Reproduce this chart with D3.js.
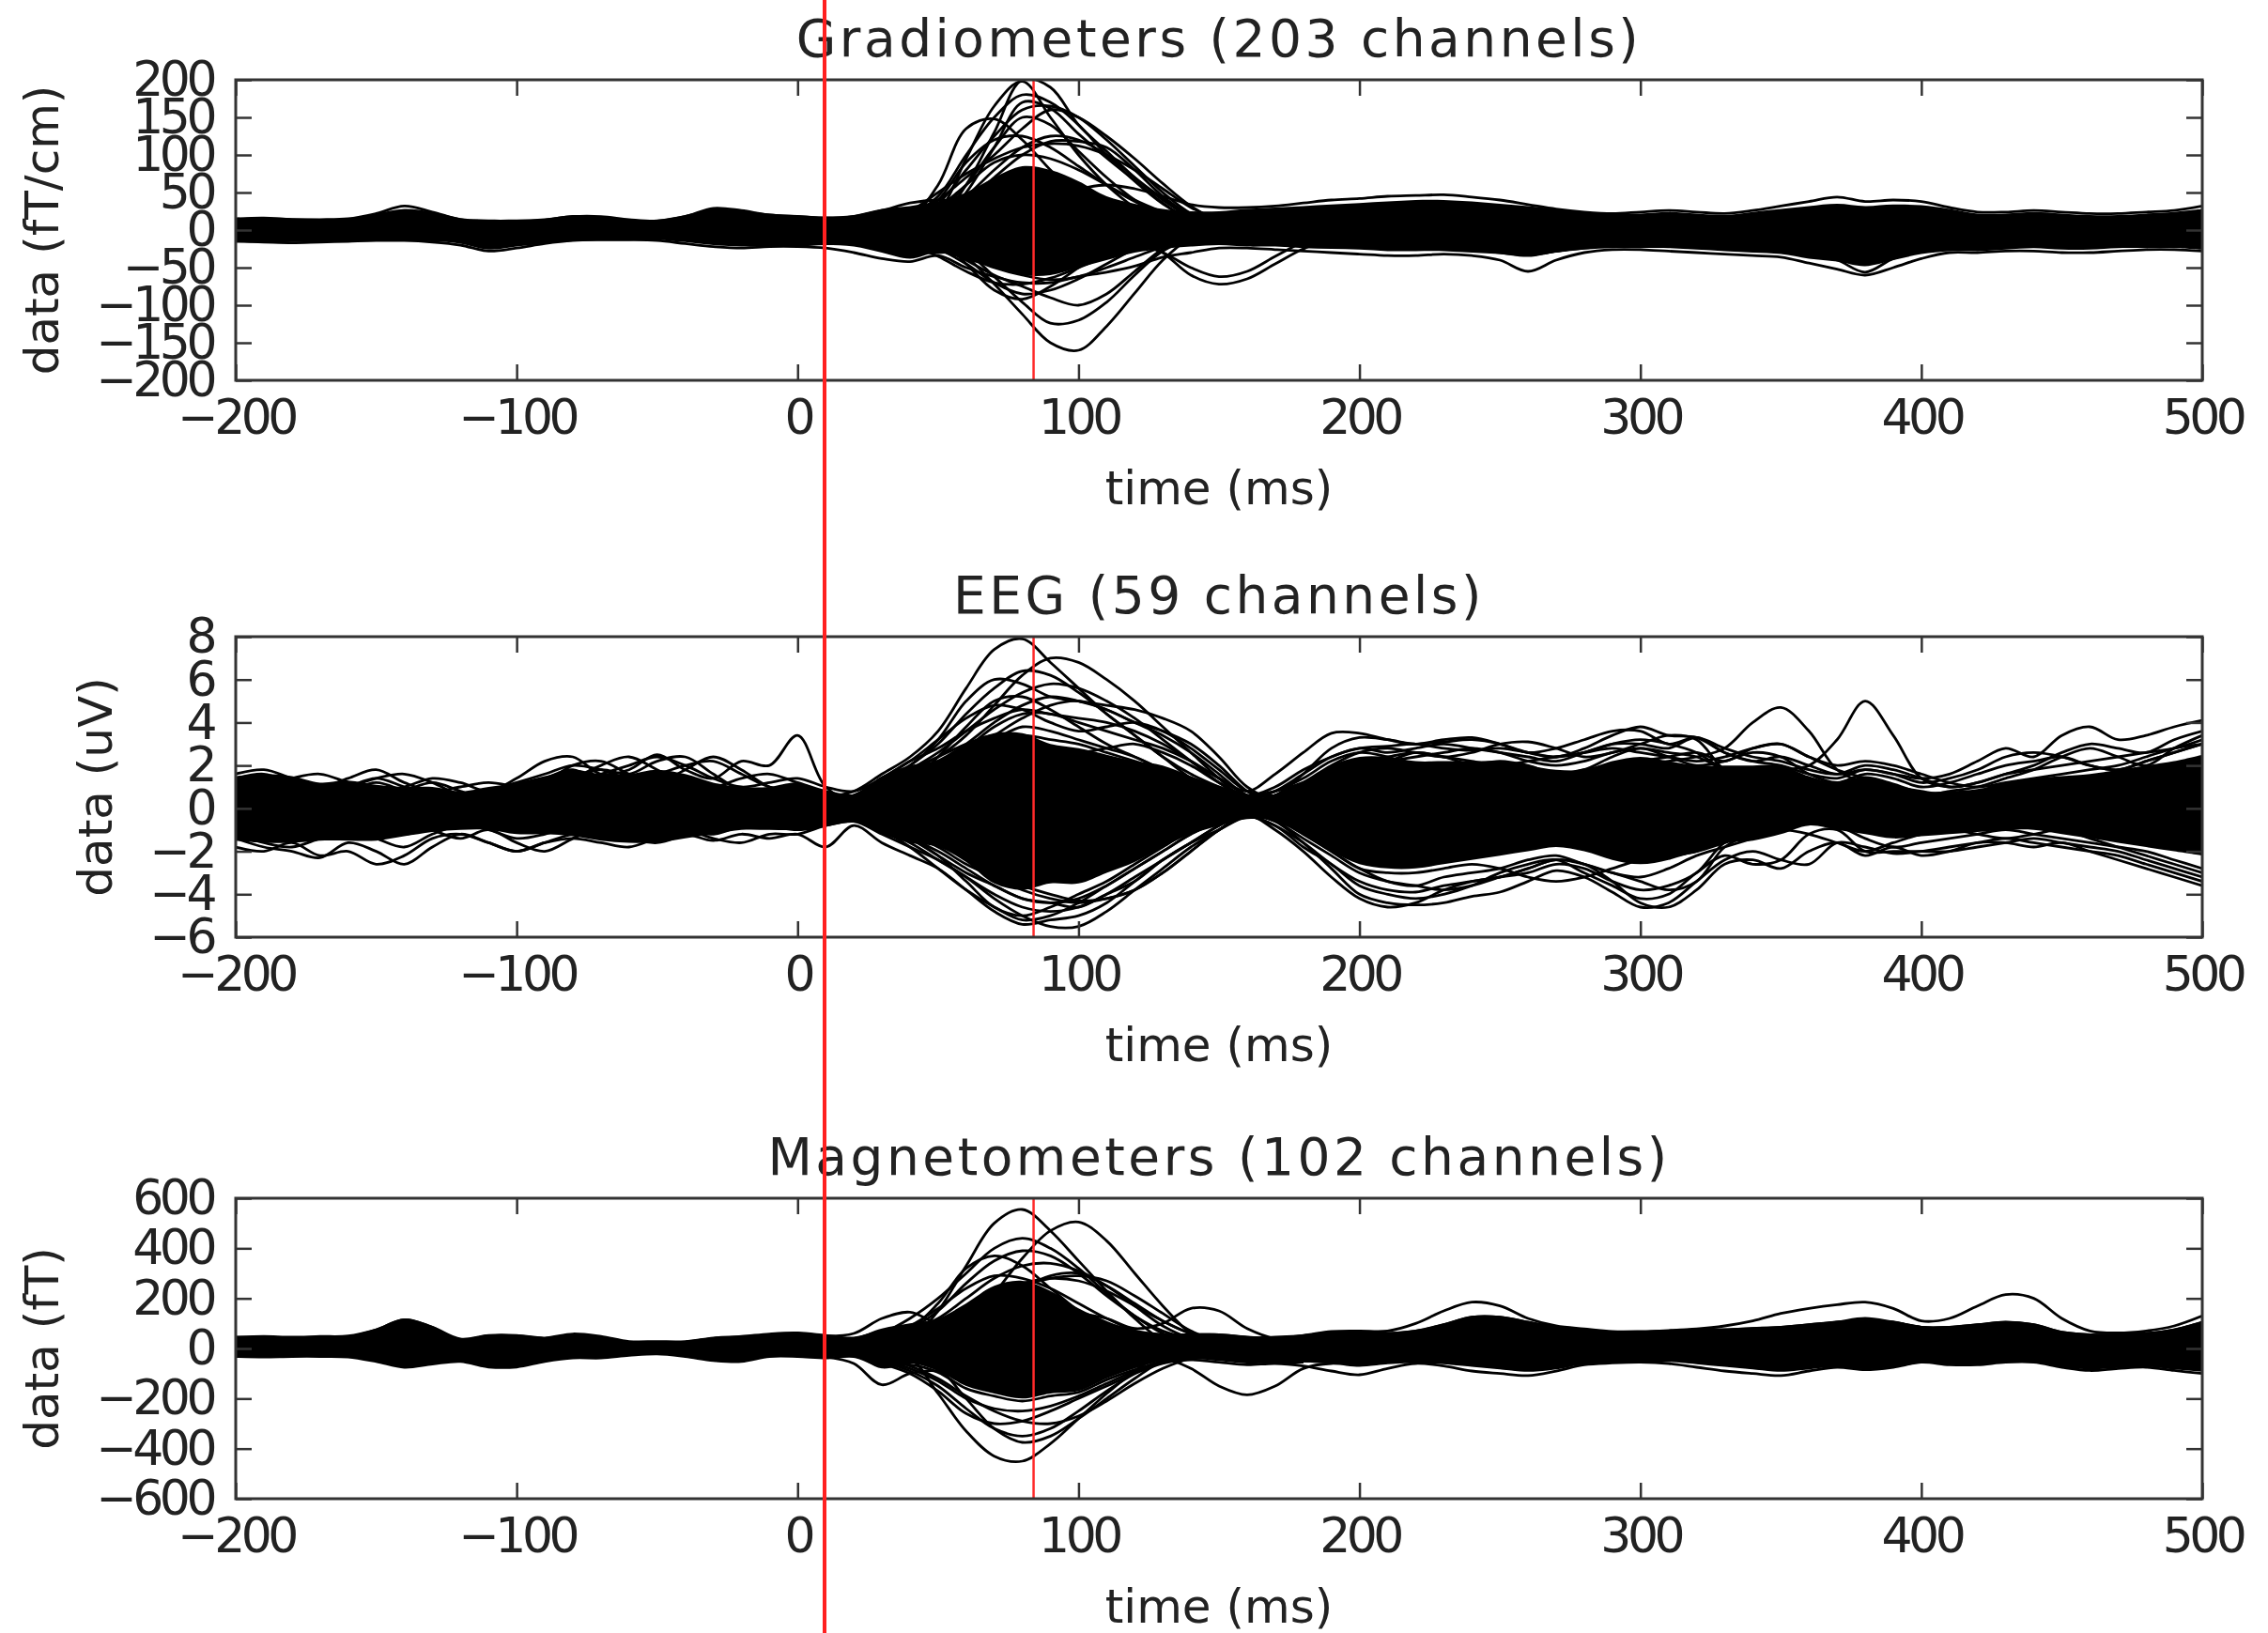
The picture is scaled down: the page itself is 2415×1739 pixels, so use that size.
<!DOCTYPE html>
<html>
<head>
<meta charset="utf-8">
<script src="https://cdn.jsdelivr.net/npm/d3@7"></script>
<style>body{margin:0;background:#fff}</style>
</head>
<body>
<script>
// sample times (ms) shared by the full-length traces
const times = [-200,-190,-180,-170,-160,-150,-140,-130,-120,-110,-100,-90,-80,-70,-60,-50,-40,-30,-20,-10,
  0,10,20,30,40,50,60,70,80,90,100,110,120,130,140,150,160,170,180,190,200,210,220,230,240,250,260,270,280,290,
  300,310,320,330,340,350,360,370,380,390,400,410,420,430,440,450,460,470,480,490,500];
// shorter windows: channels drawn only where they leave the dense bundle
const burstTimes = [20,30,40,50,60,70,80,90,100,110,120,130,140,150,160,170,180];
const lateTimes = [160,170,180,190,200,210,220,230,240,250,260,270,280,290,300,310,320,330,340];

const xTicks = [-200, -100, 0, 100, 200, 300, 400, 500];
const gradTicks = [-200, -150, -100, -50, 0, 50, 100, 150, 200];
const eegTicks = [-6, -4, -2, 0, 2, 4, 6, 8];
const magTicks = [-600, -400, -200, 0, 200, 400, 600];

const titles = ["Gradiometers (203 channels)", "EEG (59 channels)", "Magnetometers (102 channels)"];
const yLabels = ["data (fT/cm)", "data (uV)", "data (fT)"];

// red cursors (ms)
const figureCursor = 9.6;
const panelCursor = 84;

// gradiometers: upper / lower edge of the dense channel bundle, then single channels
const gradHi = [16,17,16,15,16,22,28,24,16,14, 14,15,20,18,14,14,20,28,26,22, 20,18,20,28,32,38,50,70,85,80,
  65,45,35,28,25,25,28,30,32,34, 36,38,40,40,38,35,32,28,24,22, 22,24,22,20,24,28,32,35,32,34, 33,28,22,22,24,22,20,20,22,24, 28];
const gradLo = [-16,-17,-16,-16,-15,-14,-14,-15,-18,-26, -22,-18,-15,-14,-14,-13,-16,-20,-22,-22, -22,-20,-22,-30,-38,-30,-40,-50,-60,-60,
  -50,-40,-30,-25,-22,-20,-22,-22,-24,-25, -26,-28,-28,-28,-30,-32,-35,-30,-26,-24, -24,-24,-26,-28,-30,-32,-38,-42,-48,-40, -32,-28,-28,-26,-24,-26,-26,-24,-24,-24, -26];
const gradTraces = [
  [5,8,6,2,-3,-5,0,6,8,4, 0,-4,-2,3,6,4,0,-3,2,6, 4,0,-2,3,8,15,60,130,200,190, 140,105,70,42,15,0,-6,-8,-4,0, 4,8,10,12,10,6,2,-2,-4,-2, 0,3,5,4,2,6,10,14,10,6, 2,-2,-4,-2,2,5,6,4,2,4, 8],
  [-4,-2,2,5,3,0,-3,-6,-4,0, 3,5,2,-2,-5,-3,1,4,6,3, 0,-2,2,6,12,25,95,165,198,150, 100,60,30,10,0,-5,-2,2,5,6, 8,12,15,16,14,10,6,3,0,-2, -3,-1,2,4,6,4,2,0,-4,-2, 0,2,4,6,4,0,-3,-5,-3,0, 2],
  [8,10,7,4,2,4,8,10,6,2, -2,-5,-3,0,2,0,-3,-1,3,5, 6,4,3,8,15,60,135,148,120,80, 45,20,5,-3,-6,-4,0,4,6,8, 10,14,18,20,18,15,10,6,4,2, 2,4,6,8,10,14,18,22,18,12, 8,4,2,4,6,8,10,8,6,4, 6],
  [-8,-10,-7,-4,-2,0,4,2,-4,-10, -8,-5,-2,0,-2,-4,-6,-4,0,2, 2,4,6,6,10,10,50,110,170,162, 128,96,66,36,12,0,-4,-2,2,4, 6,8,12,14,16,14,10,6,2,0, -2,-4,-2,0,2,4,8,10,8,4, 0,-4,-6,-4,-2,0,2,4,6,8, 10],
  [-6,-4,-2,0,-3,-6,-8,-6,-10,-18, -14,-10,-6,-4,-6,-8,-10,-14,-16,-14, -12,-10,-14,-20,-18,-10,-35,-72,-112,-150, -160,-128,-84,-40,-10,5,8,6,4,0, -4,-8,-12,-16,-20,-24,-28,-22,-16,-12, -10,-12,-14,-16,-20,-24,-30,-36,-42,-34, -26,-20,-18,-16,-14,-16,-18,-16,-14,-12, -14],
  [-10,-12,-11,-8,-6,-4,-4,-8,-12,-14, -16,-13,-10,-8,-8,-6,-8,-12,-14,-16, -16,-14,-16,-22,-28,-20,-30,-62,-96,-124, -120,-96,-60,-28,-12,-8,-10,-12,-14,-16, -18,-20,-20,-20,-22,-26,-32,-28,-22,-18, -16,-16,-18,-20,-22,-24,-28,-32,-40,-30, -22,-18,-20,-22,-18,-20,-22,-20,-18,-16, -18],
  [10,12,9,6,4,8,14,12,8,4, 6,8,12,10,6,4,8,14,12,10, 8,6,8,10,4,-10,-45,-80,-92,-75, -50,-26,-8,2,6,8,10,12,14,16, 20,24,26,28,26,22,18,14,10,8, 8,10,8,6,10,14,18,24,20,18, 16,12,8,6,8,6,4,6,10,12, 14],
  [-12,-14,-12,-10,-8,-10,-10,-12,-14,-20, -18,-16,-12,-10,-10,-10,-12,-16,-18,-20, -18,-16,-18,-26,-30,-30,-30,-40,-48,-52, -44,-26,-10,-30,-60,-72,-65,-45,-25,-12, -14,-18,-20,-22,-26,-30,-34,-28,-24,-20, -20,-20,-22,-24,-26,-28,-34,-40,-56,-38, -28,-24,-24,-22,-20,-22,-22,-22,-22,-20, -22],
  [15,16,14,14,15,22,32,24,14,12, 12,14,18,18,14,12,18,29,26,20, 18,16,18,26,36,40,38,40,48,50, 55,60,55,45,34,30,30,32,36,40, 42,45,46,47,44,40,34,28,24,22, 24,26,24,22,26,32,38,44,38,40, 38,30,24,24,26,24,22,22,24,26, 32],
  [0,2,4,6,4,2,0,-2,-4,-6, -4,-2,0,2,4,2,0,2,4,2, 0,2,4,8,14,20,40,70,100,118, 118,110,80,45,20,10,8,8,10,12, 14,18,22,24,22,18,14,10,6,4, 4,6,8,6,4,6,10,14,10,8, 6,4,2,2,4,6,4,2,4,6, 8],
  [-15,-16,-17,-16,-15,-14,-14,-16,-20,-28, -24,-18,-14,-13,-13,-14,-18,-22,-24,-22, -22,-24,-30,-38,-42,-34,-50,-62,-70,-70, -62,-56,-48,-36,-30,-24,-24,-26,-28,-30, -32,-34,-34,-32,-34,-40,-55,-40,-30,-26, -26,-28,-30,-32,-34,-36,-44,-52,-60,-50, -38,-30,-30,-28,-28,-30,-30,-28,-26,-26, -28]
];
const gradBurst = [
  [5,10,20,45,100,150,180,170,140,100,65,35,15,5,0,0,5],
  [0,5,15,35,80,125,160,165,150,120,85,50,22,8,2,0,0],
  [0,6,12,25,60,110,150,140,105,70,40,18,6,0,-2,0,2],
  [5,8,16,40,90,120,125,110,85,60,38,20,8,2,0,2,4],
  [0,4,10,20,45,80,110,125,120,100,70,40,18,6,2,0,2],
  [2,6,14,30,60,90,100,95,80,60,40,24,10,4,2,4,6],
  [8,12,25,50,75,95,110,115,112,100,80,55,30,14,6,4,6],
  [4,8,20,40,70,100,135,160,150,125,95,62,32,12,4,2,4],
  [-2,-6,-14,-25,-45,-70,-85,-80,-65,-45,-25,-10,-2,2,4,2,0],
  [0,-5,-12,-20,-40,-60,-75,-90,-100,-85,-55,-25,-8,-2,0,-2,-4],
  [-4,-8,-20,-35,-55,-70,-72,-64,-50,-35,-20,-30,-50,-62,-55,-35,-15],
  [2,-4,-10,-22,-35,-50,-60,-66,-62,-50,-36,-22,-10,-4,-2,-4,-6]
];

// EEG
const eegHi = [1.5,1.6,1.5,1.2,1.3,1.1,1.0,1.0,0.8,1.0, 1.2,1.5,1.8,1.6,1.6,1.8,1.6,1.2,1.0,1.0, 1.2,0.8,0.6,1.5,2.0,2.2,3.0,3.5,3.5,3.0,
  2.8,2.5,2.2,2.0,1.5,1.0,0.5,0.6,1.2,2.0, 2.4,2.4,2.2,2.2,2.2,2.2,2.0,1.8,1.8,2.2, 2.4,2.2,2.0,2.0,2.0,2.0,1.5,1.2,1.5,1.2, 0.8,0.8,0.9,1.2,1.4,1.5,1.6,1.8,2.0,2.2, 2.5];
const eegLo = [-1.5,-1.6,-1.6,-1.5,-1.5,-1.5,-1.3,-1.1,-1.0,-1.0, -1.2,-1.2,-1.3,-1.5,-1.6,-1.6,-1.4,-1.2,-1.0,-1.0, -1.0,-0.8,-0.6,-1.2,-1.6,-1.8,-2.5,-3.5,-3.8,-3.5,
  -3.5,-3.0,-2.5,-1.8,-1.2,-0.8,-0.5,-0.6,-1.2,-2.0, -2.6,-2.8,-2.8,-2.6,-2.4,-2.2,-2.0,-1.8,-2.0,-2.4, -2.6,-2.4,-2.0,-1.6,-1.5,-1.2,-0.8,-1.0,-1.2,-1.4, -1.3,-1.2,-1.1,-1.0,-1.0,-1.2,-1.4,-1.6,-1.8,-2.0, -2.2];
const eegTraces = [
  [0.8,1.2,1.0,0.4,0.2,0.6,0.9,0.5,0.2,0.6, 1.0,1.4,1.8,1.2,0.8,1.0,1.4,1.0,0.6,0.8, 1.0,0.6,0.8,1.6,2.4,3.6,5.6,7.4,7.9,6.8, 5.6,4.4,3.4,2.4,1.6,1.0,0.5,0.8,1.4,2.2, 2.6,2.4,2.0,1.8,2.0,2.2,2.0,1.6,1.8,2.4, 2.8,2.4,2.0,2.2,2.6,2.4,1.6,1.2,1.6,1.4, 1.0,1.2,1.6,2.0,2.2,2.4,2.0,1.8,2.2,2.6, 3.0],
  [-0.4,0.0,0.5,0.8,0.4,-0.2,-0.6,-0.2,0.3,0.5, 0.4,0.0,0.5,1.0,1.2,0.8,0.2,0.0,0.4,0.6, 0.4,0.2,0.4,1.0,1.8,2.4,3.4,4.8,6.2,7.0, 6.8,6.0,5.0,3.8,2.6,1.4,0.4,0.6,1.6,2.8, 3.3,3.2,3.0,3.1,3.2,3.0,2.6,2.8,3.2,3.6, 3.6,3.0,3.3,2.8,2.4,2.2,1.8,1.6,2.0,1.8, 1.4,1.0,1.2,1.6,2.0,2.6,3.0,2.8,2.6,3.2, 3.6],
  [1.4,1.6,1.2,0.8,1.0,1.4,1.6,1.2,0.6,0.4, 0.8,1.2,2.0,2.2,1.6,1.2,1.8,2.4,1.8,1.0, 0.8,0.4,0.6,1.4,2.0,3.2,5.0,6.0,5.8,5.2, 5.0,4.8,4.6,4.2,3.6,2.4,1.0,0.4,0.6,1.4, 2.0,2.2,2.6,2.4,2.0,1.8,1.6,1.4,1.6,2.0, 2.2,2.4,2.6,2.2,2.8,3.0,2.4,1.8,1.4,1.0, 0.6,0.8,1.0,1.4,1.8,2.4,2.8,2.4,2.0,2.8, 3.4],
  [-1.0,-0.6,-0.2,0.2,0.6,0.4,0.0,-0.4,-0.6,-0.2, 0.2,0.6,1.0,0.8,0.4,0.8,1.2,0.6,0.2,0.4, 0.6,0.4,0.2,0.8,1.4,1.8,2.6,3.4,4.2,4.8, 5.0,4.6,4.0,3.6,3.0,2.0,0.8,0.2,-0.4,-1.0, -1.2,-0.8,-0.4,0.2,0.6,0.8,0.4,0.0,0.4,1.0, 1.4,1.0,0.6,0.8,1.2,1.6,1.2,0.8,1.2,0.8, 0.4,0.2,0.6,0.8,1.0,1.2,0.8,0.6,1.0,1.4, 1.8],
  [-1.2,-1.6,-1.8,-1.4,-1.0,-1.4,-1.8,-1.2,-0.8,-1.0, -1.4,-1.2,-0.8,-1.0,-1.4,-1.6,-1.2,-0.8,-0.6,-0.8, -1.0,-0.8,-0.6,-1.2,-1.8,-2.4,-3.2,-4.2,-5.0,-5.5, -5.5,-4.8,-3.8,-2.8,-1.8,-1.0,-0.2,-0.6,-1.6,-2.8, -4.0,-4.4,-4.5,-4.4,-4.1,-3.9,-3.4,-2.9,-3.2,-3.9, -4.6,-4.4,-3.4,-2.4,-2.0,-2.4,-2.6,-1.6,-1.8,-2.1, -2.0,-1.8,-1.6,-1.4,-1.6,-1.8,-2.0,-2.2,-2.6,-3.0, -3.4],
  [0.2,-0.4,-0.8,-0.4,0.0,-0.6,-1.2,-0.8,-0.2,0.2, -0.2,-0.8,-0.6,-0.2,-0.6,-1.0,-0.6,0.0,0.2,-0.2, -0.4,-0.2,0.0,-0.6,-1.4,-2.2,-3.4,-4.6,-5.0,-4.6, -4.0,-3.4,-2.6,-1.8,-1.0,-0.4,0.0,-0.4,-1.2,-2.0, -2.8,-3.4,-3.6,-3.2,-3.0,-2.8,-2.4,-2.2,-2.6,-3.0, -3.2,-2.8,-2.2,-1.8,-1.4,-1.0,-0.6,-0.8,-1.4,-1.8, -1.6,-1.4,-1.2,-1.0,-1.2,-1.4,-1.6,-1.8,-2.0,-2.4, -2.8],
  [-0.8,-0.4,0.2,0.6,0.2,-0.2,-0.4,-1.0,-1.4,-1.0, -1.6,-2.0,-1.4,-0.8,-0.4,-0.6,-1.0,-1.2,-0.8,-0.4, -0.2,-0.4,-0.4,-0.8,-1.2,-1.6,-2.2,-3.0,-3.6,-4.0, -4.3,-4.2,-3.8,-3.0,-2.0,-1.0,-0.3,0.2,-0.4,-1.2, -2.0,-2.4,-2.2,-2.0,-1.8,-1.6,-1.4,-1.2,-1.4,-1.8, -2.0,-2.2,-2.0,-1.6,-1.2,-1.0,-1.2,-1.6,-2.0,-1.6, -1.2,-1.0,-1.2,-1.4,-1.2,-1.0,-1.4,-1.8,-2.2,-2.6, -3.0],
  [1.6,1.8,1.4,1.0,1.4,1.8,1.2,0.8,1.0,1.2, 1.0,0.8,1.2,1.6,2.0,2.4,2.0,1.4,1.0,1.2, 1.4,1.0,0.8,1.4,2.2,2.8,3.6,4.2,4.6,4.4, 4.2,4.0,3.6,3.0,2.2,1.4,0.8,1.6,2.6,3.5, 3.5,3.2,3.0,3.2,3.3,3.0,2.6,2.4,2.8,3.4, 3.8,3.4,3.3,2.6,2.2,2.4,2.0,1.6,1.8,1.6, 1.2,1.4,1.8,2.4,2.6,2.4,2.0,1.8,2.2,2.6, 3.0],
  [0.4,0.8,1.0,0.6,0.2,0.4,0.8,1.2,0.8,0.4, 0.6,1.0,1.4,1.8,1.6,2.2,2.4,1.6,0.8,0.4, 0.6,0.2,0.2,0.6,1.2,1.6,2.0,2.6,3.0,2.8, 2.4,2.0,1.6,1.2,0.8,0.4,0.2,0.4,1.0,1.6, 2.0,1.8,1.6,1.4,1.6,1.8,1.4,1.0,1.2,1.6, 2.0,2.2,2.4,2.8,4.0,4.7,3.6,1.8,1.2,1.0, 0.8,0.6,0.8,1.0,1.2,1.4,1.2,1.0,1.2,1.6, 2.0],
  [-0.2,0.2,0.6,0.4,0.8,1.2,0.8,0.4,0.6,0.8, 1.2,1.6,2.0,1.8,1.4,1.6,2.0,2.2,1.6,1.0, 0.8,0.4,0.4,1.0,1.6,2.0,2.6,3.2,3.8,3.6, 3.2,2.8,2.4,1.8,1.2,0.6,0.2,0.6,1.2,1.8, 2.2,2.0,1.8,1.6,1.6,1.8,1.8,1.6,1.8,2.0, 2.0,1.8,1.6,1.4,1.6,1.8,2.0,3.2,5.0,3.4, 1.4,1.0,1.2,1.6,1.8,2.0,2.2,2.4,2.6,2.8, 3.2],
  [1.0,1.2,0.8,0.6,1.0,1.4,1.0,0.6,0.4,0.6, 0.8,1.0,1.4,2.0,2.4,1.8,1.2,1.0,1.4,1.6, 1.2,0.8,0.6,1.2,1.8,2.4,3.0,3.4,3.2,2.8, 2.6,2.8,3.0,2.6,2.0,1.2,0.6,1.0,1.8,2.4, 2.8,2.6,2.8,3.0,2.8,2.6,2.4,2.2,2.6,3.0, 3.0,2.8,3.3,2.6,2.2,2.0,1.6,1.4,1.8,1.6, 1.4,1.6,2.2,2.8,2.4,3.4,3.8,3.2,3.4,3.8, 4.1],
  [-1.8,-2.0,-1.6,-2.2,-2.0,-2.6,-2.2,-1.4,-1.2,-1.6, -2.0,-1.6,-1.2,-1.2,-1.4,-1.2,-1.0,-1.4,-1.6,-1.2, -1.2,-0.8,-0.6,-1.0,-1.4,-2.0,-2.8,-3.6,-4.2,-4.4, -4.6,-4.0,-3.4,-2.4,-1.6,-0.8,-0.3,-1.0,-2.0,-3.2, -4.2,-4.6,-4.4,-3.8,-3.4,-3.2,-2.8,-2.4,-2.6,-3.4, -4.4,-4.6,-3.8,-2.6,-2.4,-2.8,-2.0,-1.6,-2.2,-1.8, -2.2,-2.0,-1.6,-1.6,-1.8,-1.6,-2.0,-2.4,-2.8,-3.2, -3.6],
  [1.2,1.0,1.4,1.6,1.2,0.8,1.0,1.4,1.2,0.8, 1.4,2.2,2.4,1.6,1.8,2.5,1.8,1.4,2.2,2.0, 3.4,1.0,0.4,1.2,1.8,2.2,2.6,3.0,3.4,3.2, 3.0,2.6,2.2,1.8,1.4,1.0,0.6,0.8,1.2,1.8, 2.2,2.4,2.6,2.4,2.2,2.0,2.2,2.4,2.6,2.8, 2.6,2.4,2.2,2.4,2.8,3.0,2.4,2.0,2.2,2.0, 1.6,1.2,1.0,1.2,1.4,1.6,1.8,2.0,2.4,2.8, 3.0],
  [-1.4,-1.8,-2.0,-2.3,-1.6,-2.0,-2.6,-1.8,-1.2,-1.6, -2.0,-1.6,-1.4,-1.6,-1.8,-1.4,-1.2,-1.5,-1.2,-1.4, -1.2,-1.8,-0.8,-1.6,-2.2,-2.8,-3.8,-4.8,-5.4,-5.2, -5.0,-4.4,-3.4,-2.4,-1.6,-1.0,-0.4,-0.8,-1.8,-2.6, -3.6,-4.0,-4.2,-4.0,-3.6,-3.0,-2.6,-2.4,-3.0,-3.6, -4.2,-4.0,-3.0,-2.2,-2.6,-2.4,-1.2,-1.0,-2.0,-2.0, -2.0,-2.0,-1.8,-1.6,-1.4,-1.6,-1.8,-2.0,-2.4,-2.8, -3.2]
];
const eegBurst = [
  [0.6,1.2,2.0,3.0,4.4,5.6,6.4,6.2,5.4,4.4,3.4,2.4,1.4,0.7,0.3,0.6,1.0],
  [0.4,1.0,1.8,2.6,3.6,4.6,5.4,5.8,5.6,5.0,4.2,3.2,2.2,1.2,0.4,0.5,1.0],
  [0.5,1.0,1.6,2.2,3.0,4.0,4.8,5.2,5.0,4.6,4.0,3.4,2.6,1.6,0.6,0.4,0.8],
  [0.3,0.8,1.4,2.0,2.8,3.8,4.4,4.4,4.0,3.6,3.2,2.8,2.2,1.4,0.6,0.2,0.6],
  [0.2,0.6,1.2,2.4,3.8,5.0,5.2,4.6,3.8,3.0,2.4,1.8,1.2,0.6,0.2,0.4,0.8],
  [0.5,1.4,2.2,3.2,4.2,4.8,4.6,4.0,3.6,3.8,4.0,3.6,2.8,1.8,0.8,0.6,1.0],
  [-0.4,-1.0,-1.6,-2.4,-3.2,-4.0,-4.6,-4.8,-4.6,-4.0,-3.2,-2.4,-1.6,-0.8,-0.2,-0.6,-1.0],
  [-0.2,-0.8,-1.4,-2.2,-3.0,-3.6,-4.2,-4.4,-4.2,-3.6,-2.8,-2.0,-1.2,-0.6,-0.1,-0.5,-1.0],
  [-0.5,-1.0,-1.8,-2.8,-3.8,-4.6,-5.2,-5.0,-4.4,-3.6,-2.8,-2.0,-1.2,-0.6,-0.2,-0.4,-1.0],
  [-0.3,-0.6,-1.2,-1.8,-2.6,-3.2,-3.8,-4.2,-4.4,-4.2,-3.8,-3.0,-2.0,-1.0,-0.3,-0.4,-0.8]
];
const eegLate = [
  [0.3,0.8,1.6,2.4,2.8,2.9,3.0,2.8,2.7,2.8,2.6,2.4,2.6,3.0,3.2,3.0,2.6,1.8,1.4],
  [0.2,0.6,1.2,2.0,2.6,2.8,2.6,2.4,2.6,3.0,3.1,2.8,2.4,2.6,3.0,3.4,3.2,1.8,1.4],
  [-0.3,-0.8,-1.6,-2.6,-3.4,-3.8,-3.9,-3.6,-3.4,-3.2,-3.0,-2.6,-2.8,-3.4,-3.8,-3.6,-3.0,-1.6,-1.2],
  [-0.2,-0.6,-1.4,-2.2,-3.0,-3.4,-3.6,-3.8,-3.6,-3.2,-2.8,-2.4,-2.6,-3.0,-3.4,-3.8,-3.4,-1.8,-1.2],
  [0.0,0.4,1.0,1.6,2.0,2.2,2.4,2.6,2.8,2.6,2.2,2.0,2.2,2.6,2.8,2.6,2.4,1.8,1.4],
  [-0.1,-0.5,-1.2,-2.0,-2.8,-3.0,-3.0,-2.8,-2.6,-2.8,-3.2,-3.4,-3.2,-2.8,-2.4,-2.2,-2.0,-1.4,-1.2]
];

// magnetometers
const magHi = [50,50,48,50,52,80,120,90,40,55, 55,45,60,50,30,30,30,45,50,60, 65,55,45,80,100,120,180,250,270,230,
  160,110,70,60,60,60,50,45,55,70, 70,65,75,100,130,130,110,90,80,70, 70,75,80,80,85,90,100,110,115,110, 90,90,100,110,100,70,60,60,65,80, 110];
const magLo = [-30,-32,-30,-30,-32,-50,-70,-60,-50,-70, -70,-50,-35,-35,-25,-20,-30,-45,-50,-30, -30,-35,-30,-80,-60,-90,-150,-180,-200,-180,
  -170,-120,-80,-50,-40,-50,-60,-55,-55,-60, -70,-60,-55,-60,-70,-80,-90,-80,-60,-55, -50,-50,-60,-70,-80,-90,-80,-70,-80,-70, -50,-60,-60,-50,-50,-70,-80,-75,-70,-80, -90];
const magTraces = [
  [20,25,20,15,25,50,90,60,20,10, 20,30,40,20,5,10,20,30,40,45, 40,30,20,30,40,150,330,500,555,470, 350,230,120,30,-10,-20,-10,0,10,20, 30,20,30,60,90,100,80,60,40,30, 30,40,50,55,60,70,80,90,90,80, 60,50,60,70,60,40,30,30,40,50, 70],
  [-10,-5,0,5,0,10,30,20,-10,-20, -20,-10,5,10,0,-5,0,10,20,25, 20,10,5,20,40,60,100,220,360,470, 505,430,300,170,60,10,0,10,20,30, 40,30,40,70,110,120,100,70,50,40, 40,50,60,70,75,80,90,100,110,100, 80,70,80,90,80,50,40,40,50,60, 90],
  [30,35,30,25,30,60,100,70,30,40, 40,35,45,40,20,20,25,35,40,50, 55,45,35,60,80,180,320,370,330,240, 150,80,40,30,40,45,40,35,45,55, 55,50,60,80,110,115,95,80,65,55, 55,60,65,70,75,80,90,105,120,105, 85,80,90,100,90,60,50,50,55,70, 100],
  [0,5,10,5,-5,20,60,40,0,20, 20,10,20,30,10,5,10,20,30,35, 30,20,15,40,50,70,100,170,240,290, 300,250,180,110,60,40,30,25,30,40, 50,45,50,70,100,110,90,70,55,45, 45,50,55,60,65,70,80,90,95,90, 70,65,75,85,75,45,35,35,45,55, 80],
  [-20,-25,-20,-20,-25,-40,-60,-50,-35,-55, -60,-40,-25,-25,-15,-10,-20,-35,-40,-20, -20,-25,-20,-40,-40,-180,-330,-430,-450,-380, -280,-180,-90,-20,-10,-30,-40,-40,-40,-50, -60,-50,-45,-50,-60,-70,-80,-70,-50,-45, -40,-40,-50,-60,-70,-80,-70,-60,-70,-60, -40,-50,-50,-40,-40,-60,-70,-65,-60,-70, -80],
  [-25,-28,-26,-25,-28,-45,-65,-55,-45,-65, -65,-45,-30,-30,-20,-15,-25,-40,-45,-25, -25,-30,-25,-60,-50,-80,-200,-320,-375,-350, -280,-200,-120,-50,-30,-40,-50,-50,-50,-55, -65,-55,-50,-55,-65,-75,-85,-75,-55,-50, -45,-45,-55,-65,-75,-85,-75,-65,-75,-65, -45,-55,-55,-45,-45,-65,-75,-70,-65,-75, -85],
  [40,45,40,42,45,70,110,80,35,50, 50,40,55,45,25,25,25,40,45,55, 60,50,60,120,145,100,100,120,140,150, 140,120,80,100,160,150,80,40,40,60, 60,60,70,95,125,125,105,85,75,65, 65,70,75,75,80,85,95,105,110,105, 85,85,95,105,95,65,55,55,60,75, 105],
  [-28,-30,-28,-28,-30,-48,-68,-58,-48,-68, -68,-48,-33,-33,-23,-18,-28,-43,-48,-28, -28,-33,-60,-145,-100,-90,-130,-150,-160,-140, -120,-90,-60,-40,-80,-150,-185,-150,-80,-60, -68,-58,-53,-58,-68,-78,-88,-78,-58,-53, -48,-48,-58,-68,-78,-88,-78,-68,-78,-68, -48,-58,-58,-48,-48,-68,-78,-73,-68,-78, -88],
  [45,48,45,48,50,75,115,85,38,52, 52,42,58,48,28,28,28,42,48,58, 62,52,42,70,90,100,120,150,170,160, 130,100,70,55,55,55,45,42,52,68, 70,70,100,150,185,170,120,90,78,68, 68,72,78,90,110,140,160,175,185,160, 110,120,170,215,200,120,70,62,70,90, 130],
  [-32,-34,-32,-32,-34,-52,-75,-62,-52,-74, -74,-52,-38,-38,-28,-22,-32,-48,-52,-32, -32,-38,-32,-70,-65,-95,-160,-190,-210,-190, -175,-125,-85,-55,-45,-55,-65,-60,-70,-90, -105,-80,-60,-70,-90,-100,-108,-90,-65,-58, -55,-60,-75,-90,-100,-108,-90,-75,-85,-75, -55,-65,-65,-55,-55,-75,-88,-80,-75,-88, -100]
];
const magBurst = [
  [20,60,120,200,300,400,440,400,320,220,130,60,20,10,10,20,30],
  [30,50,80,150,260,350,390,370,300,210,130,70,40,30,30,35,40],
  [20,40,70,120,200,280,330,340,310,250,170,90,40,20,20,30,40],
  [30,50,90,160,240,290,280,240,180,120,70,40,30,30,35,40,45],
  [10,30,50,80,140,200,250,280,290,270,210,140,70,30,20,30,40],
  [30,40,60,100,160,220,260,280,270,230,170,110,60,40,40,45,50],
  [-20,-50,-90,-150,-240,-320,-350,-320,-250,-170,-100,-50,-30,-30,-40,-50,-50],
  [-30,-60,-100,-170,-260,-300,-290,-250,-200,-150,-100,-60,-40,-40,-50,-55,-55],
  [-20,-40,-70,-120,-190,-250,-290,-300,-270,-210,-140,-80,-40,-30,-40,-50,-55],
  [-25,-45,-80,-130,-200,-240,-250,-230,-190,-140,-90,-50,-35,-40,-50,-55,-55]
];

const W = 2415, H = 1739;
const plotLeft = 251, plotRight = 2345, plotH = 320;
const tops = [85, 678, 1276];

const svg = d3.select('body').append('svg')
    .attr('width', W)
    .attr('height', H)
    .style('font-family', "'DejaVu Sans', sans-serif");

const x = d3.scaleLinear().domain([-200, 500]).range([plotLeft, plotRight]);

const panels = [
    {domain: [-200, 200], ticks: gradTicks, hi: gradHi, lo: gradLo,
     sets: [[times, gradTraces], [burstTimes, gradBurst]]},
    {domain: [-6, 8], ticks: eegTicks, hi: eegHi, lo: eegLo,
     sets: [[times, eegTraces], [burstTimes, eegBurst], [lateTimes, eegLate]]},
    {domain: [-600, 600], ticks: magTicks, hi: magHi, lo: magLo,
     sets: [[times, magTraces], [burstTimes, magBurst]]}
];

panels.forEach(function(p, k) {
    const top = tops[k], bottom = top + plotH;
    const y = d3.scaleLinear().domain(p.domain).range([bottom, top]);
    const g = svg.append('g');

    svg.append('clipPath').attr('id', 'clip' + k)
      .append('rect')
        .attr('x', plotLeft).attr('y', top)
        .attr('width', plotRight - plotLeft).attr('height', plotH);

    const plot = g.append('g').attr('clip-path', 'url(#clip' + k + ')');

    // dense bundle where the channels overlap
    const area = d3.area()
        .x(function(d, i) { return x(times[i]); })
        .y0(function(d, i) { return y(p.lo[i]); })
        .y1(function(d) { return y(d); })
        .curve(d3.curveCatmullRom);
    plot.append('path')
        .datum(p.hi)
        .attr('d', area)
        .attr('fill', '#000');

    p.sets.forEach(function(s) {
        const t = s[0];
        const line = d3.line()
            .x(function(d, i) { return x(t[i]); })
            .y(function(d) { return y(d); })
            .curve(d3.curveCatmullRom);
        plot.append('g').selectAll('path')
            .data(s[1])
            .enter().append('path')
            .attr('d', line)
            .attr('fill', 'none')
            .attr('stroke', '#000')
            .attr('stroke-width', 2.8);
    });

    plot.append('line')
        .attr('x1', x(panelCursor)).attr('x2', x(panelCursor))
        .attr('y1', top).attr('y2', bottom)
        .attr('stroke', '#ff2a2a')
        .attr('stroke-width', 2.5);

    // ticks on all four sides, pointing inwards
    const axB = g.append('g').attr('transform', 'translate(0,' + bottom + ')')
        .call(d3.axisBottom(x).tickValues(xTicks).tickSizeInner(-17).tickSizeOuter(0).tickPadding(20).tickFormat(d3.format('d')));
    const axT = g.append('g').attr('transform', 'translate(0,' + top + ')')
        .call(d3.axisTop(x).tickValues(xTicks).tickSizeInner(-17).tickSizeOuter(0).tickFormat(''));
    const axL = g.append('g').attr('transform', 'translate(' + plotLeft + ',0)')
        .call(d3.axisLeft(y).tickValues(p.ticks).tickSizeInner(-17).tickSizeOuter(0).tickPadding(24).tickFormat(d3.format('d')));
    const axR = g.append('g').attr('transform', 'translate(' + plotRight + ',0)')
        .call(d3.axisRight(y).tickValues(p.ticks).tickSizeInner(-17).tickSizeOuter(0).tickFormat(''));

    [axB, axT, axL, axR].forEach(function(a) {
        a.select('.domain').remove();
        a.selectAll('line').attr('stroke', '#333').attr('stroke-width', 2.5);
        a.selectAll('text')
            .attr('font-family', "'DejaVu Sans', sans-serif")
            .attr('font-size', 52)
            .attr('letter-spacing', -4.5)
            .attr('fill', '#222');
    });

    g.append('rect')
        .attr('x', plotLeft).attr('y', top)
        .attr('width', plotRight - plotLeft).attr('height', plotH)
        .attr('fill', 'none')
        .attr('stroke', '#333')
        .attr('stroke-width', 3);

    g.append('text')
        .attr('x', (plotLeft + plotRight) / 2)
        .attr('y', top - 25)
        .attr('text-anchor', 'middle')
        .attr('font-size', 55)
        .attr('letter-spacing', 3.5)
        .attr('fill', '#222')
        .text(titles[k]);

    g.append('text')
        .attr('x', (plotLeft + plotRight) / 2)
        .attr('y', bottom + 132)
        .attr('text-anchor', 'middle')
        .attr('font-size', 50)
        .attr('fill', '#222')
        .text('time (ms)');

    // y label sits left of the widest tick label
    const tb = axL.node().getBBox();
    g.append('text')
        .attr('transform', 'translate(' + (plotLeft + tb.x - 40) + ',' + (top + plotH / 2) + ') rotate(-90)')
        .attr('text-anchor', 'middle')
        .attr('font-size', 50)
        .attr('fill', '#222')
        .text(yLabels[k]);
});

// cursor through the whole figure
svg.append('line')
    .attr('x1', x(figureCursor)).attr('x2', x(figureCursor))
    .attr('y1', 0).attr('y2', H)
    .attr('stroke', '#ff2020')
    .attr('stroke-width', 4);
</script>
</body>
</html>
